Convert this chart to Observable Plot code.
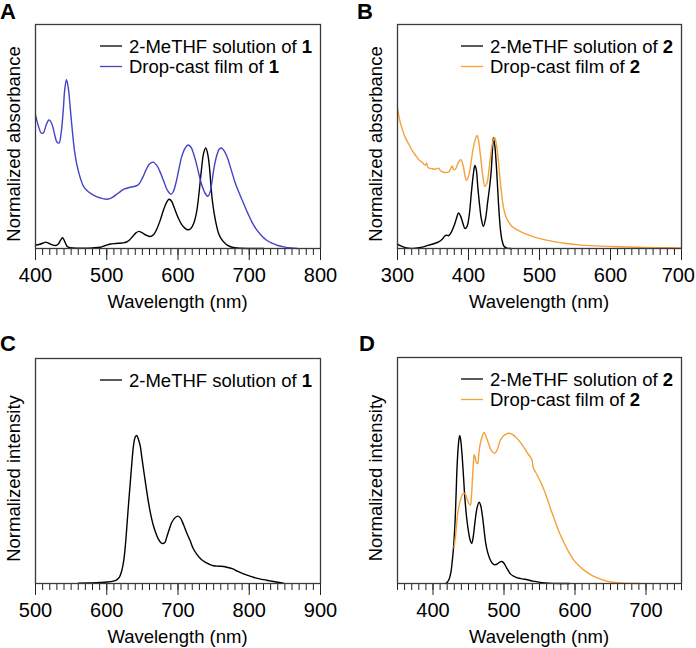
<!DOCTYPE html>
<html>
<head>
<meta charset="utf-8">
<script src="https://cdn.jsdelivr.net/npm/d3@7"></script>
<script src="https://cdn.jsdelivr.net/npm/@observablehq/plot@0.6"></script>
<style>
  html, body { margin: 0; padding: 0; background: #fff; }
  #root { position: relative; width: 696px; height: 648px; overflow: hidden; }
  .panel { position: absolute; width: 348px; height: 324px; }
  .panel svg { display: block; }
</style>
</head>
<body>
<div id="root"></div>
<script>
const FONT = "'Liberation Sans', Arial, Helvetica, sans-serif";
const BLUE = "#4343c6";
const ORANGE = "#f5a03a";

// Panel A: absorbance, compound 1
const absSolution1 = [[400,0.033],[405,0.04],[410,0.052],[414,0.063],[419,0.05],[424,0.035],[428,0.03],[432,0.045],[435,0.08],[438,0.107],[441,0.07],[444.5,0.02],[449,0.008],[456,0.004],[468,0.003],[480,0.006],[491,0.013],[498,0.03],[505,0.045],[513,0.05],[521,0.055],[527,0.062],[532,0.085],[537,0.125],[541,0.155],[545,0.17],[550,0.155],[556,0.13],[561,0.12],[566,0.14],[570,0.19],[575,0.28],[580,0.39],[584,0.46],[587.5,0.49],[591,0.47],[595,0.4],[600,0.31],[605,0.24],[610,0.2],[614,0.186],[618,0.2],[622,0.25],[626,0.36],[629,0.52],[633,0.79],[636,0.95],[639,1.0],[642,0.93],[644,0.82],[646,0.65],[648,0.49],[651,0.34],[654,0.23],[657,0.15],[661,0.093],[667,0.045],[673,0.02],[680,0.007],[687,0.002],[700,0],[720,0]];
const absFilm1 = [[400,1.33],[404,1.22],[408,1.15],[411,1.15],[415,1.23],[419,1.28],[423,1.24],[427,1.13],[430,1.06],[433,1.05],[436,1.15],[439,1.38],[441,1.58],[443.5,1.68],[446,1.6],[449,1.38],[452,1.15],[455,0.96],[458.5,0.82],[463,0.7],[468,0.61],[475,0.56],[482,0.53],[490,0.505],[500,0.49],[508,0.51],[516,0.55],[524,0.59],[533,0.61],[540,0.62],[545,0.64],[550,0.7],[555,0.78],[560,0.84],[565,0.86],[570,0.83],[575,0.76],[580,0.67],[585,0.58],[590,0.54],[593,0.56],[597,0.65],[601,0.78],[605,0.91],[610,1.0],[614,1.03],[618,1.01],[622,0.94],[626,0.84],[630,0.72],[634,0.62],[638,0.55],[642,0.52],[645,0.56],[648,0.68],[651,0.82],[655,0.94],[658,0.99],[661,1.0],[665,0.97],[669,0.91],[674,0.8],[680,0.66],[686,0.55],[692,0.45],[698,0.35],[704,0.26],[710,0.19],[717,0.13],[724,0.085],[731,0.055],[740,0.03],[750,0.014],[760,0.005],[768,0]];

// Panel B: absorbance, compound 2
const absSolution2 = [[300,0.04],[304,0.025],[310,0.01],[316,0.002],[325,0.003],[335,0.012],[344,0.03],[352,0.045],[358,0.06],[363,0.084],[367,0.115],[369,0.12],[372,0.115],[376,0.15],[380,0.21],[383,0.27],[386,0.32],[389,0.29],[392,0.23],[395,0.18],[398,0.2],[401,0.3],[404,0.5],[407,0.68],[409,0.75],[411,0.71],[413,0.56],[416,0.37],[418,0.27],[421,0.2],[424,0.27],[427,0.42],[430,0.57],[432,0.7],[434,0.92],[435,1.0],[437,0.93],[439,0.77],[441,0.55],[443,0.33],[445,0.17],[447,0.08],[450,0.02],[454,0.004],[460,0]];
const absFilm2 = [[300,1.27],[303,1.16],[307,1.07],[311,1.0],[316,0.94],[321,0.88],[326,0.835],[330,0.8],[335,0.775],[339,0.75],[341,0.77],[343,0.73],[348,0.72],[353,0.715],[358,0.725],[360,0.705],[364,0.69],[368,0.685],[372,0.69],[375,0.72],[377,0.745],[379,0.71],[382,0.72],[386,0.78],[389,0.8],[392,0.76],[395,0.66],[397,0.615],[400,0.65],[403,0.75],[406,0.88],[409,0.97],[412,1.02],[414,0.98],[417,0.83],[420,0.66],[423,0.56],[426,0.59],[429,0.72],[432,0.88],[435,0.98],[437,1.0],[439,0.95],[442,0.8],[444,0.65],[446.5,0.5],[449,0.38],[452,0.3],[456,0.245],[461,0.2],[468,0.17],[476,0.144],[485,0.12],[494,0.1],[508,0.078],[522,0.06],[538,0.045],[555,0.033],[578,0.024],[602,0.018],[625,0.013],[649,0.009],[675,0.007],[700,0.006]];

// Panel C: emission, compound 1
const emSolution1 = [[560,0.002],[575,0.003],[591,0.007],[600,0.01],[609,0.016],[614,0.025],[618,0.045],[621,0.085],[624,0.16],[626,0.25],[628,0.37],[630,0.5],[633,0.68],[635,0.8],[637.5,0.93],[640,0.99],[642,1.0],[644,0.98],[647,0.93],[649,0.86],[651.5,0.775],[655,0.66],[658.5,0.55],[662,0.46],[665.5,0.39],[669,0.34],[672.5,0.3],[676,0.275],[679,0.27],[682,0.28],[684,0.31],[688,0.37],[691,0.41],[695,0.44],[699.5,0.455],[703,0.445],[707.5,0.4],[712,0.345],[717,0.29],[721,0.24],[726,0.2],[732,0.165],[738,0.144],[744,0.13],[750,0.12],[757,0.117],[764,0.115],[770,0.108],[776,0.1],[784,0.082],[792,0.065],[801,0.05],[810,0.036],[820,0.026],[829,0.018],[838,0.01],[848,0.002]];

// Panel D: emission, compound 2
const emSolution2 = [[418,0],[420,0.008],[422.5,0.027],[425,0.07],[427,0.144],[429,0.25],[431,0.41],[432.5,0.6],[434,0.8],[436,0.95],[437.6,1.0],[439,0.97],[441,0.865],[443,0.72],[445,0.57],[447.5,0.44],[450,0.35],[452.5,0.29],[454.5,0.27],[456.5,0.31],[459,0.41],[462,0.51],[465,0.55],[467,0.53],[469.5,0.46],[472,0.36],[474,0.28],[477,0.21],[480,0.167],[483,0.14],[486,0.128],[490,0.13],[494,0.145],[497,0.149],[500,0.137],[502,0.12],[505,0.095],[509,0.065],[514,0.048],[519,0.038],[526,0.031],[533,0.025],[541,0.016],[549,0.009],[558,0.004],[568,0.001],[580,0],[592,0]];
const emFilm2 = [[429.6,0.24],[432,0.33],[434,0.44],[436.5,0.52],[439,0.57],[441.5,0.6],[443.7,0.61],[446,0.6],[448,0.57],[450.5,0.54],[452.6,0.53],[454,0.58],[455.5,0.7],[457,0.82],[458,0.87],[459.5,0.85],[461,0.82],[463,0.81],[464.5,0.87],[466,0.93],[469,0.99],[472,1.02],[475,0.99],[478,0.95],[482,0.9],[487,0.88],[491,0.91],[495,0.97],[500,1.0],[506,1.015],[511,1.01],[516.4,0.99],[522,0.96],[528,0.92],[534,0.875],[539,0.84],[540,0.82],[541,0.786],[547,0.73],[554,0.66],[560,0.585],[566,0.5],[572,0.42],[577.5,0.35],[584,0.28],[591.5,0.21],[598,0.16],[605.6,0.12],[614,0.085],[624.4,0.054],[636,0.03],[648,0.013],[660,0.005],[676,0.001],[692.5,0]];

// Axis ticks
const ticksA = [400, 500, 600, 700, 800];
const ticksB = [300, 400, 500, 600, 700];
const ticksC = [500, 600, 700, 800, 900];
const ticksD = [400, 500, 600, 700];

const panels = [
  { letter: "A", left: 0, top: 0, xDomain: [400, 800], yDomain: [0, 2.23], ticks: ticksA,
    margins: {marginLeft: 35, marginRight: 28, marginTop: 24, marginBottom: 76},
    ylabel: "Normalized absorbance", letterPos: [0, 19],
    series: [
      {name: "2-MeTHF solution of ", bold: "1", color: "#000", data: absSolution1},
      {name: "Drop-cast film of ", bold: "1", color: BLUE, data: absFilm1}
    ]},
  { letter: "B", left: 348, top: 0, xDomain: [300, 700], yDomain: [0, 2.02], ticks: ticksB,
    margins: {marginLeft: 49, marginRight: 15, marginTop: 24, marginBottom: 76},
    ylabel: "Normalized absorbance", letterPos: [9, 19],
    series: [
      {name: "2-MeTHF solution of ", bold: "2", color: "#000", data: absSolution2},
      {name: "Drop-cast film of ", bold: "2", color: ORANGE, data: absFilm2}
    ]},
  { letter: "C", left: 0, top: 324, xDomain: [500, 900], yDomain: [0, 1.52], ticks: ticksC,
    margins: {marginLeft: 35, marginRight: 28, marginTop: 34, marginBottom: 65},
    ylabel: "Normalized intensity", letterPos: [0, 27],
    series: [
      {name: "2-MeTHF solution of ", bold: "1", color: "#000", data: emSolution1}
    ]},
  { letter: "D", left: 348, top: 324, xDomain: [350, 750], yDomain: [0, 1.527], ticks: ticksD,
    margins: {marginLeft: 49, marginRight: 15, marginTop: 33, marginBottom: 65},
    ylabel: "Normalized intensity", letterPos: [11, 27],
    series: [
      {name: "2-MeTHF solution of ", bold: "2", color: "#000", data: emSolution2},
      {name: "Drop-cast film of ", bold: "2", color: ORANGE, data: emFilm2}
    ]}
];

const root = document.getElementById("root");
const W = 348, H = 324;

for (const p of panels) {
  const minor = d3.range(p.xDomain[0], p.xDomain[1] + 0.1, 10);
  const plot = Plot.plot({
    width: W, height: H,
    ...p.margins,
    style: {fontFamily: FONT, fontSize: "18.5px", color: "#000", background: "transparent", overflow: "visible"},
    x: {domain: p.xDomain},
    y: {domain: p.yDomain, axis: null},
    marks: [
      Plot.axisX({ticks: minor, tickSize: 7, tickFormat: () => "", label: null, stroke: "#222", strokeWidth: 1}),
      Plot.axisX({ticks: p.ticks, tickSize: 12, tickPadding: 7, label: null, stroke: "#222", strokeWidth: 1, fill: "#000", fontSize: 20}),
      ...p.series.map(s => Plot.line(s.data, {x: d => d[0], y: d => d[1], stroke: s.color, strokeWidth: 1.4, curve: "catmull-rom"})),
      Plot.frame({stroke: "#3a3a3a", strokeWidth: 1.3})
    ]
  });
  const div = document.createElement("div");
  div.className = "panel";
  div.style.left = p.left + "px";
  div.style.top = p.top + "px";
  div.appendChild(plot);
  root.appendChild(div);

  const svg = d3.select(plot);
  const fl = p.margins.marginLeft, fr = W - p.margins.marginRight;
  const ft = p.margins.marginTop, fb = H - p.margins.marginBottom;

  // tick labels: force size, keep inside the panel's right edge
  svg.selectAll("text").each(function() {
    if (/^\d+$/.test(this.textContent)) {
      this.style.fontSize = "20px";
      const b = this.getBBox();
      const ctm = this.getCTM();
      const right = (ctm ? ctm.e : 0) + b.x + b.width;
      if (right > W - 1) {
        d3.select(this).attr("dx", (W - 1 - right) + "px");
      }
    }
  });

  // panel letter
  svg.append("text").attr("x", p.letterPos[0]).attr("y", p.letterPos[1])
    .attr("text-anchor", "start")
    .attr("font-size", 22).attr("font-weight", "bold").attr("fill", "#000").text(p.letter);

  // x label
  svg.append("text").attr("x", (fl + fr) / 2).attr("y", fb + 60)
    .attr("text-anchor", "middle").attr("font-size", 18.5).attr("fill", "#000").text("Wavelength (nm)");

  // y label
  const cy = (ft + fb) / 2 + 8;
  svg.append("text").attr("transform", `translate(${fl - 15},${cy}) rotate(-90)`)
    .attr("text-anchor", "middle").attr("font-size", 18.5).attr("fill", "#000").text(p.ylabel);

  // legend
  const lx = fr - 191;
  p.series.forEach((s, i) => {
    const by = ft + 28.5 + i * 20.5;
    svg.append("line").attr("x1", lx - 29).attr("x2", lx - 7)
      .attr("y1", by - 6.5).attr("y2", by - 6.5)
      .attr("stroke", s.color).attr("stroke-width", 1.3);
    const t = svg.append("text").attr("x", lx).attr("y", by)
      .attr("text-anchor", "start").attr("font-size", 18.5).attr("fill", "#000");
    t.append("tspan").text(s.name);
    t.append("tspan").attr("font-weight", "bold").text(s.bold);
  });
}
</script>
</body>
</html>
